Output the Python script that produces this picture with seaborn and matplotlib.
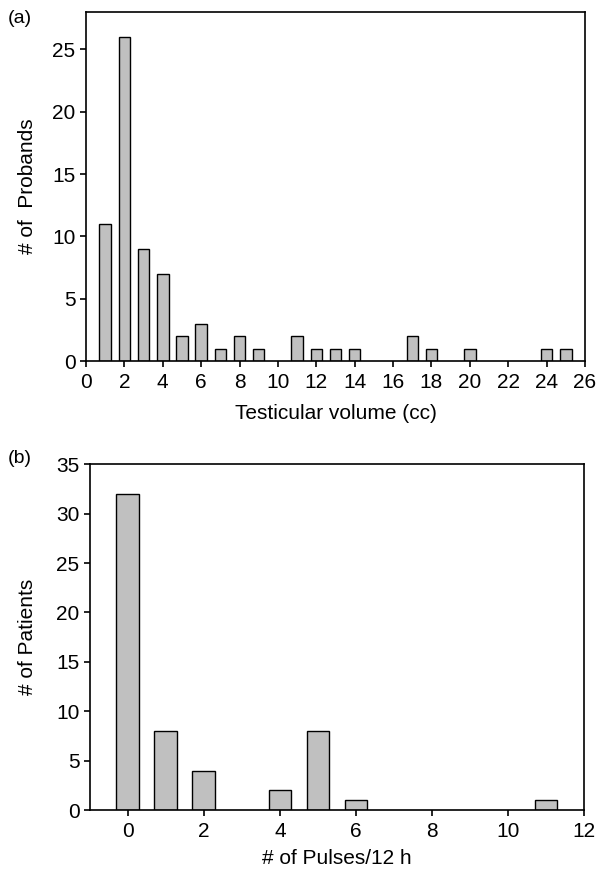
import pandas as pd
import matplotlib
matplotlib.use("Agg")
import matplotlib.pyplot as plt
import seaborn as sns

# Panel (a): testicular volume
volumen = [1, 2, 3, 4, 5, 6, 7, 8, 9, 11, 12, 13, 14, 17, 18, 20, 24, 25]
probandos = [11, 26, 9, 7, 2, 3, 1, 2, 1, 2, 1, 1, 1, 2, 1, 1, 1, 1]

# Panel (b): pulses per 12 h
pulsos = [0, 1, 2, 4, 5, 6, 11]
pacientes = [32, 8, 4, 2, 8, 1, 1]

sns.set_style("ticks")
plt.rcParams['font.family'] = ['Liberation Sans', 'DejaVu Sans']
plt.rcParams['axes.linewidth'] = 1.2
plt.rcParams['text.color'] = 'black'
plt.rcParams['axes.labelcolor'] = 'black'
plt.rcParams['xtick.color'] = 'black'
plt.rcParams['ytick.color'] = 'black'

fig = plt.figure(figsize=(5.99, 8.71), dpi=100)
ax1 = fig.add_axes([0.1436, 0.5855, 0.833, 0.4007])
ax2 = fig.add_axes([0.150, 0.070, 0.825, 0.397])

df_a = pd.DataFrame({"vol": volumen, "n": probandos})
df_b = pd.DataFrame({"pul": pulsos, "n": pacientes})

sns.barplot(data=df_a, x="vol", y="n", native_scale=True, width=0.6,
            color="#c0c0c0", saturation=1, edgecolor="black", linewidth=1, ax=ax1)
sns.barplot(data=df_b, x="pul", y="n", native_scale=True, width=0.6,
            color="#c0c0c0", saturation=1, edgecolor="black", linewidth=1, ax=ax2)

ax1.set_xlim(0, 26)
ax1.set_ylim(0, 28)
ax1.set_xticks(range(0, 27, 2))
ax1.set_yticks(range(0, 26, 5))
ax1.set_xlabel("Testicular volume (cc)", fontsize=15)
ax1.set_ylabel("# of  Probands", fontsize=15)
ax1.xaxis.set_label_coords(0.5, -0.123)
ax1.yaxis.set_label_coords(-0.098, 0.5)

ax2.set_xlim(-1, 12)
ax2.set_ylim(0, 35)
ax2.set_xticks(range(0, 13, 2))
ax2.set_yticks(range(0, 36, 5))
ax2.set_xlabel("# of Pulses/12 h", fontsize=15)
ax2.set_ylabel("# of Patients", fontsize=15)
ax2.xaxis.set_label_coords(0.5, -0.113)
ax2.yaxis.set_label_coords(-0.107, 0.5)

for ax in (ax1, ax2):
    ax.tick_params(labelsize=15, direction="out", length=4, width=1.2)
    ax.tick_params(axis="x", pad=4.5)
    for s in ax.spines.values():
        s.set_visible(True)
        s.set_color("black")

fig.text(0.013, 0.9885, "(a)", fontsize=14, va="top")
fig.text(0.013, 0.4834, "(b)", fontsize=14, va="top")

fig.savefig("out.png", dpi=100)
